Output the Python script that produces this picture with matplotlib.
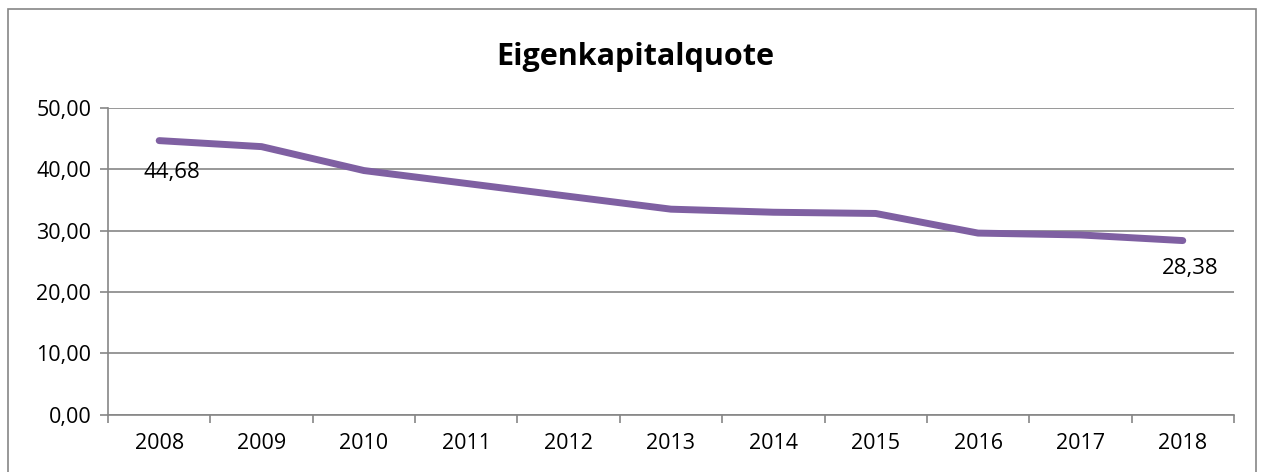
import numpy as np
import matplotlib.pyplot as plt
from matplotlib.patches import Rectangle
from matplotlib.ticker import FuncFormatter, FixedLocator

plt.rcParams['font.family'] = ['Open Sans', 'DejaVu Sans']

years = ['2008', '2009', '2010', '2011', '2012', '2013', '2014', '2015', '2016', '2017', '2018']
quote = [44.68, 43.7, 39.8, 37.7, 35.6, 33.5, 33.0, 32.8, 29.6, 29.3, 28.38]

grey = '#868686'

fig = plt.figure(figsize=(12.63, 4.72), dpi=100)
ax = fig.add_axes([0.0855, 0.1216, 0.8915, 0.6496])

x = np.arange(len(years))
ax.plot(x, quote, color='#7F60A2', lw=5, solid_capstyle='round', solid_joinstyle='round', zorder=3)

# data labels on first and last point
ax.annotate('44,68', (x[0], quote[0]), xytext=(9, -23), textcoords='offset points',
            ha='center', va='center', fontsize=16)
ax.annotate('28,38', (x[-1], quote[-1]), xytext=(5, -20), textcoords='offset points',
            ha='center', va='center', fontsize=16)

ax.set_xlim(-0.5, len(years) - 0.5)
ax.set_ylim(0, 50)
ax.set_yticks(np.arange(0, 51, 10))
ax.yaxis.set_major_formatter(FuncFormatter(lambda v, p: f'{v:.2f}'.replace('.', ',')))
ax.yaxis.grid(True, color=grey, lw=1.2)
ax.set_axisbelow(True)

# Excel style: ticks between categories, labels centered
ax.xaxis.set_major_locator(FixedLocator(np.arange(-0.5, len(years), 1.0)))
ax.xaxis.set_minor_locator(FixedLocator(x))
ax.xaxis.set_major_formatter(FuncFormatter(lambda v, p: ''))
ax.set_xticks(x, years, minor=True)
ax.tick_params(axis='x', which='major', length=6, color=grey, width=1.2, direction='out')
ax.tick_params(axis='x', which='minor', length=0, labelsize=15.5, pad=13)
ax.tick_params(axis='y', length=6, color=grey, width=1.2, labelsize=15.5, pad=6)

for s in ['top', 'right']:
    ax.spines[s].set_visible(False)
for s in ['left', 'bottom']:
    ax.spines[s].set_color(grey)
    ax.spines[s].set_linewidth(1.2)

fig.text(0.503, 0.88, 'Eigenkapitalquote', ha='center', va='center', fontsize=22, fontweight='bold')

# chart area border
fig.patches.append(Rectangle((8 / 1263, -0.05), 1248 / 1263, 1.05 - 9 / 472, transform=fig.transFigure,
                             fill=False, edgecolor=grey, lw=1.2))

fig.savefig('out.png', dpi=100)
